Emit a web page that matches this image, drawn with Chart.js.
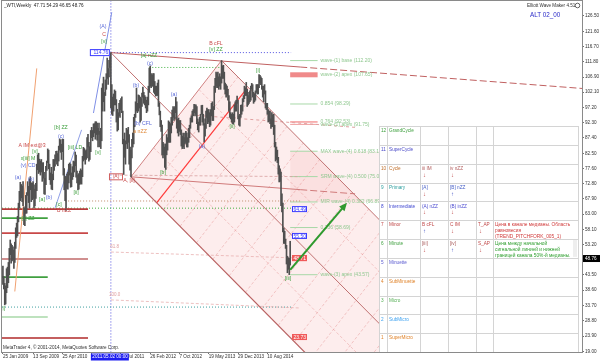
<!DOCTYPE html>
<html><head><meta charset="utf-8">
<title>_WTI,Weekly</title>
<script src="https://cdn.jsdelivr.net/npm/chart.js@4.4.1/dist/chart.umd.min.js"></script>
<style>html,body{margin:0;padding:0;background:#fff;overflow:hidden;width:600px;height:361px}canvas{display:block}</style>
</head><body>
<canvas id="c" width="600" height="361"></canvas>
<script>
// ---------- DATA ----------
// weekly bars, week 0 = 25 Jan 2009
const weekLow = [
40.5,39.0,33.9,34.2,37.8,39.4,41.0,43.5,50.0,47.3,
48.0,48.5,45.6,47.5,52.0,55.5,56.0,60.5,65.0,67.3,
68.2,67.0,65.7,59.6,59.3,63.2,63.3,69.0,66.7,65.0,
70.8,67.0,67.6,68.0,65.0,65.6,68.0,70.5,77.2,76.0,
76.5,75.5,76.5,73.5,74.5,69.5,69.3,72.4,77.0,79.5,
77.5,74.0,72.5,71.0,70.8,74.0,77.0,78.4,80.0,79.0,
78.5,80.0,83.5,82.8,80.5,83.0,75.5,70.8,67.3,64.2,
71.2,71.0,73.0,75.5,71.6,71.8,74.1,75.0,76.5,78.5,
74.8,73.0,70.8,71.0,72.5,72.8,72.6,75.0,80.0,80.5,
79.0,80.5,81.0,84.5,80.0,80.5,83.0,87.5,86.5,87.8,
89.0,87.0,88.5,86.7,84.5,88.5,84.5,84.0,86.5,96.0,
99.0,96.0,101.0,103.0,106.5,104.6,107.0,110.0,97.0,95.0,
94.6,96.0,98.0,98.0,92.5,89.6,90.0,94.5,94.0,96.5,
95.5,85.5,75.7,81.2,79.0,85.5,84.0,86.0,79.0,77.1,
74.9,81.0,84.5,85.5,91.0,94.0,96.0,95.5,96.0,97.0,
92.5,93.0,97.5,100.5,98.5,98.0,97.0,95.5,96.0,98.0,
102.0,104.0,103.5,104.0,104.0,102.0,101.5,100.8,101.0,101.0,
97.5,94.8,91.0,89.5,82.0,81.0,82.0,78.0,77.3,82.0,
83.5,86.0,86.0,86.0,89.0,91.5,94.0,93.0,93.5,95.5,
90.5,89.0,88.0,89.5,88.5,84.8,84.0,84.5,84.0,85.5,
86.0,84.5,84.5,86.0,87.5,90.5,92.5,92.5,94.5,95.5,
94.5,95.0,92.0,90.0,89.3,91.5,91.5,95.0,92.5,91.5,
86.1,88.0,90.5,94.0,92.0,92.5,91.0,91.5,94.5,93.0,
93.0,96.5,102.0,104.0,103.5,103.5,103.0,104.0,103.0,105.0,
106.5,106.5,103.0,101.5,100.5,101.0,99.5,96.0,94.0,93.5,
92.5,92.0,91.8,92.5,96.0,96.0,98.5,93.5,91.5,91.2,
94.0,95.0,96.0,99.0,100.0,101.0,101.0,97.5,98.0,98.5,
99.0,99.5,103.0,100.5,98.5,99.0,99.5,102.0,101.5,101.5,
103.5,105.0,104.5,103.0,100.5,99.0,101.5,97.0,96.5,95.0,
92.5,92.8,92.0,90.5,91.0,91.0,88.5,84.5,80.0,80.5,
79.5,75.8,73.3,73.5,65.7,63.7,57.3,53.6,53.6,52.0,
47.0,44.2,45.3,43.6,46.65];
const weekHigh = [
46.3,43.0,40.8,40.0,45.5,46.0,47.5,52.0,54.7,53.5,
53.0,52.5,51.5,54.0,58.6,60.1,62.3,66.5,70.3,73.2,
72.5,72.0,73.4,65.3,64.8,69.0,69.9,73.4,71.9,74.3,
75.0,73.0,72.9,73.4,72.4,71.0,72.9,79.0,82.0,82.5,
80.6,80.0,80.5,79.4,79.5,76.4,74.5,78.3,80.0,83.9,
83.5,79.0,76.2,78.0,75.8,80.5,80.5,82.0,83.1,83.2,
82.4,84.8,87.1,86.8,85.4,87.0,87.0,77.6,75.0,75.0,
75.8,76.5,79.0,79.4,79.0,76.2,78.2,80.0,79.8,82.9,
81.9,76.8,75.5,76.0,76.8,77.5,77.0,81.5,84.4,84.0,
83.3,83.6,87.5,88.6,86.0,84.6,89.8,90.8,89.8,91.9,
92.0,92.6,92.6,92.2,90.5,92.2,89.5,90.5,103.4,104.8,
106.9,102.0,106.0,108.0,113.0,109.6,112.3,113.8,114.8,104.5,
100.5,101.5,102.8,102.4,99.7,96.6,95.5,98.5,99.5,100.0,
100.6,96.0,87.0,89.0,86.5,90.5,90.0,90.8,88.5,84.5,
83.5,87.0,89.0,94.0,95.0,99.0,103.4,98.5,101.2,101.0,
100.5,100.0,101.8,103.7,102.0,101.0,100.5,99.5,100.5,104.0,
109.8,110.5,108.0,107.5,108.0,108.0,105.5,104.0,104.0,105.0,
106.0,98.7,96.0,93.0,91.5,86.0,85.5,84.5,85.5,88.5,
87.5,92.9,92.5,92.0,94.0,96.3,97.5,97.0,97.5,100.4,
99.0,93.5,93.8,93.0,93.0,90.0,88.0,89.0,87.5,89.0,
89.5,89.0,87.5,90.5,91.5,93.8,94.5,96.0,96.5,98.2,
98.0,98.0,97.5,93.5,92.5,94.0,95.0,97.8,97.9,95.0,
92.0,93.5,96.0,97.0,96.5,96.5,95.5,96.5,98.5,99.0,
97.5,104.0,106.5,108.5,108.0,108.5,107.0,108.0,107.0,112.2,
110.5,110.7,108.5,105.0,104.5,104.0,103.0,101.0,99.0,95.5,
95.0,95.5,95.0,98.0,99.0,99.5,100.8,99.5,94.5,95.0,
97.9,98.0,100.0,101.0,104.0,103.5,105.2,103.0,101.0,102.0,
102.5,104.0,104.9,104.5,102.0,101.5,102.5,104.5,104.5,104.5,
107.7,107.5,107.0,106.5,104.0,104.0,104.5,102.5,98.5,98.5,
96.5,96.0,96.0,93.5,95.5,94.8,95.0,91.5,86.0,84.5,
83.5,81.2,78.5,77.5,76.5,69.5,66.5,58.5,57.5,55.0,
53.0,49.5,49.0,48.8,54.29];
const quoteText = '_WTI,Weekly  47.71 54.29 46.65 48.76';
const lastClose = 48.76;

const xTickWeeks  = [0,33,65,97,129,161,193,225,257,289];
const xTickLabels = ['25 Jan 2009','13 Sep 2009','25 Apr 2010','5 Dec 2010','17 Jul 2011','26 Feb 2012','7 Oct 2012','19 May 2013','29 Dec 2013','10 Aug 2014'];
const cursorWeek = 118, cursorLabel = '2011.05.02 00:00', peakPrice = 114.76;
const yTickValues = [19.00,23.90,28.80,33.70,38.60,43.50,48.40,53.20,58.10,63.00,67.90,72.80,77.60,82.50,87.40,92.30,97.20,102.10,106.90,111.80,116.70,121.60,126.50];

// Andrews pitchfork pivots [week, price]
const forkP0 = [118,114.76];
const forkP1 = [140,74.95];
const forkP2 = [239,112.24];
const forkInnerFractions = [0.25,0.75];

// trend / channel lines [week0, price0, week1, price1]
const trendLines = [
  [118,114.76,325,110.14],[325,110.14,633,103.27],
  [140,74.95,325,70.83],[325,70.83,385,69.5],
  [205,94.8,385,90.8],
  [13,38.2,37,109.7],
  [99,95.4,119,127.7],
  [57,65.0,86,90.0],
  [168,66.6,267,103.4],
  [118,50.85,325,48.9],[118,35.5,325,32.9],
  [122,75.5,325,75.0]
];
// horizontal levels on the left [price, endWeek]
const leftLevelPrices = [64.6,61.7,56.9,48.6,42.8,30.0,23.3];
const leftLevelEnd    = [93,49,93,93,49,49,93];
// dotted horizontals [price, week0, week1]
const dottedLevels = [[64.9,-1,315],[33.2,-1,315],[67.2,68,325],[110.0,160,239],[114.76,118,315]];

// target levels (right)
const levelNames  = ['wave-(1) base','wave-(2) apex','0.854','0.764','wave-(1) apex','MAX wave-(4) 0.618','SRM wave-(4) 0.500','MIR wave-(4) 0.382','0.236','wave-(3) apex'];
const levelPrices = [112.20,107.65,98.29,92.53,91.75,83.15,75.02,66.89,58.69,43.57];
const levelWeeks  = [314,344];
const zonePrices  = [83.15,66.89];

// price marker boxes
const boxTexts  = ['64.49','55.50','48.71','23.73'];
const boxPrices = [64.6,56.0,48.9,23.6];
const arrowFrom = [314,45.1], arrowTo = [374,65.9];

// wave labels
const waveText  = ['(A)','C','[v]','B cFL','[v] ZZ','[a] nZZ','(c)','[i]','(b)','(a)','(b) CFL','a nZZ','[b]','A, [ii]','(a)','[ii]','[iii]','A IM ext@3','[b] ZZ','(c)','[v]','x[iii] M','(v) CD','[iii] LD','[v]','(a)','(b)','[a]','(b)','[ii]','[c]','B nZZ','[ii] ZZ','[i]','61.8','100.0'];
const waveWeek  = [109.4,110.5,110.5,232.9,232.9,159.7,160.8,278.8,145.5,187.0,153.1,149.9,175.0,137.8,217.6,250.4,311.6,31.8,63.5,63.5,35.1,27.4,27.4,78.8,103.9,16.5,30.7,42.7,50.4,79.9,61.3,66.8,27.4,0.1,122,122];
const wavePrice = [123.0,120.7,118.2,117.8,115.6,113.7,111.4,108.9,104.1,101.2,91.9,89.6,76.2,73.6,84.5,90.9,42.2,85.1,90.6,88.0,83.2,80.7,78.4,84.2,82.6,74.6,74.2,67.5,68.2,69.8,65.9,64.0,61.7,32.6,52.6,37.3];
const waveKind  = ['b','r','g','r','g','g','b','g','b','b','b','o','g','r','b','g','g','r','g','b','g','g','b','g','g','b','b','g','b','g','g','r','g','g','p','p'];

// table
const degreeNo   = [12,11,10,9,8,7,6,5,4,3,2,1];
const degreeName = ['GrandCycle','SuperCycle','Cycle','Primary','Intermediate','Minor','Minute','Minuette','SubMinuette','Micro','SubMicro','SuperMicro'];
const waveCur    = ['','','iii IM','[A]','(A) nZZ','B cFL','[iii]','','','','',''];
const waveCurDir = ['','','↓','↓','↓','↑','↓','','','','',''];
const waveNext   = ['','','iv nZZ','[B] nZZ','(B) inZZ','C IM','[iv]','','','','',''];
const waveNextDir= ['','','↓','↑','↓','↓','↑','','','','',''];
const signalName = ['','','','','','T_AP','S_AP','','','','',''];
const signalDir  = ['','','','','','↓','↓','','','','',''];
const notes = [[],[],[],[],[],
  ['Цена в канале медианы. Область','равновесия','(TREND_PITCHFORK_005_1)'],
  ['Цена между начальной','сигнальной линией и нижней','границей канала 50%-й медианы.'],
  [],[],[],[],[]];

// ---------- STYLES ----------
const FONT = '"Liberation Sans", Arial, sans-serif';
const fnt = (s) => s + 'px ' + FONT;
const degreeColor = ['#3d9f3d','#4a4ac8','#c0702c','#2fa0a0','#3f46d0','#c04848','#3d9f3d','#5a5ad0','#e0842c','#58b058','#3aa0f0','#e0842c'];
const cellColor   = ['','','#b05a5a','#4a62c8','#4a4ad0','#c04848','#a85a5a','','','','',''];
const noteColor   = ['','','','','','#d03a3a','#2f9f2f','','','','',''];
const waveColor = {g:'#3d9f3d', b:'#5a6ad8', r:'#c84848', o:'#e08a3a', p:'#e0a0a0'};
const leftLevelColor = ['#b83a3a','#3fa03f','#c84848','#c06a6a','#40a040','#a8d8a8','#b02a2a'];
const dottedColor = ['#40b040','#40a0a0','#c08a6a','#40b040','#5050e0'];
const trendStyle = [
  ['#c06060',1,[]],['#c06060',1,[7,3]],
  ['#d07a7a',1,[]],['#d07a7a',1,[7,3]],
  ['#e0a0a0',1,[3,3]],
  ['#f0a070',1,[]],
  ['#7f8fe6',1,[]],
  ['#8f9fe6',1,[]],
  ['#ff3a3a',1.2,[]],
  ['#e8b0b0',0.8,[3,2]],['#e8b0b0',0.8,[3,2]],
  ['#d8a0a0',0.8,[3,2]]
];
const levelColor = ['#a8d8a8','#f08a8a','#a8d8a8','#f06a6a','#f0a0a0','#a8d8a8','#a8d8a8','#a8d8a8','#a8d8a8','#a8d8a8'];
const levelWidth = [1,5,1,1,1,1,1,1,1,1];
const boxStyle = [['#ffffff','#3a3aff','#3a3aff'],['#ffffff','#3a3aff','#3a3aff'],['#f05a5a','#f05a5a','#ffffff'],['#f05a5a','#f05a5a','#ffffff']];

// ---------- helpers ----------
const dir = [(forkP1[0]+forkP2[0])/2 - forkP0[0], (forkP1[1]+forkP2[1])/2 - forkP0[1]];
const add = (p, t) => [p[0] + dir[0]*t, p[1] + dir[1]*t];
const lerp = (a, b, f) => [a[0] + (b[0]-a[0])*f, a[1] + (b[1]-a[1])*f];
function seg(p, q, color, width, dash, order) {
  return {type:'line', data:[{x:p[0],y:p[1]},{x:q[0],y:q[1]}], borderColor:color, borderWidth:width,
    borderDash:dash||[], pointRadius:0, pointHoverRadius:0, fill:false, tension:0, order:order||2};
}

const datasets = [{
  type:'bar', label:'WTI', order:0,
  data: weekLow.map((l,i)=>({x:i, y:[l, weekHigh[i]]})),
  backgroundColor:'#505050', borderWidth:0, barThickness:1, grouped:false
}];
// pitchfork lines
datasets.push(seg(forkP0, add(forkP0, 7), '#c07070', 1, [], 3));
datasets.push(seg(forkP1, add(forkP1, 6), '#b86060', 1.2, [], 3));
datasets.push(seg(forkP2, add(forkP2, 6), '#c07070', 1, [], 3));
datasets.push(seg(forkP1, forkP2, '#d08080', 1, [], 3));
trendLines.forEach((t,i)=>datasets.push(seg([t[0],t[1]],[t[2],t[3]], trendStyle[i][0], trendStyle[i][1], trendStyle[i][2], 4)));
leftLevelPrices.forEach((p,i)=>datasets.push(seg([-1,p],[leftLevelEnd[i],p], leftLevelColor[i], 1.6, [], 4)));
dottedLevels.forEach((d,i)=>datasets.push(seg([d[1],d[0]],[d[2],d[0]], dottedColor[i], 1, [1,2], 4)));
datasets.push(seg([cursorWeek,10],[cursorWeek,140], '#5050e0', 1, [1,2], 4));
levelPrices.forEach((p,i)=>datasets.push(seg([levelWeeks[0],p],[levelWeeks[1],p], levelColor[i], levelWidth[i], [], 4)));

const overlay = {
  id:'overlay',
  beforeDatasetsDraw(chart){
    const {ctx, chartArea:a, scales:{x,y}} = chart;
    const X = v => x.getPixelForValue(v), Y = v => y.getPixelForValue(v);
    ctx.save();
    ctx.beginPath(); ctx.rect(a.left, a.top, a.right-a.left, a.bottom-a.top); ctx.clip();
    // fib zone
    ctx.fillStyle = 'rgba(240,140,140,0.12)';
    ctx.fillRect(X(levelWeeks[0]), Y(zonePrices[0]), X(520)-X(levelWeeks[0]), Y(zonePrices[1])-Y(zonePrices[0]));
    // fork fill
    const T = 6;
    const poly = [forkP1, forkP2, add(forkP2,T), add(forkP1,T)];
    ctx.beginPath();
    poly.forEach((p,i)=>{ i ? ctx.lineTo(X(p[0]),Y(p[1])) : ctx.moveTo(X(p[0]),Y(p[1])); });
    ctx.closePath();
    ctx.fillStyle = 'rgba(235,110,110,0.12)';
    ctx.fill();
    ctx.clip();
    ctx.strokeStyle = 'rgba(220,110,110,0.42)'; ctx.lineWidth = 0.8; ctx.setLineDash([3,2]);
    const ln = (p,q)=>{ ctx.beginPath(); ctx.moveTo(X(p[0]),Y(p[1])); ctx.lineTo(X(q[0]),Y(q[1])); ctx.stroke(); };
    forkInnerFractions.forEach(f=>{ const b = lerp(forkP1, forkP2, f); ln(b, add(b,T)); });
    for (let s = 0.25; s <= T; s += 0.25) ln(add(forkP1,s), add(forkP2,s));
    ctx.restore();
  },
  afterDatasetsDraw(chart){
    const {ctx, chartArea:a, scales:{x,y}} = chart;
    const X = v => x.getPixelForValue(v), Y = v => y.getPixelForValue(v);
    ctx.save();
    ctx.beginPath(); ctx.rect(a.left, a.top, a.right-a.left, a.bottom-a.top); ctx.clip();
    ctx.textBaseline = 'middle';
    // level labels
    ctx.font = fnt(5); ctx.textAlign = 'left'; ctx.fillStyle = '#90c890';
    levelNames.forEach((n,i)=>ctx.fillText(n + ' (' + levelPrices[i].toFixed(2) + ')', X(levelWeeks[1]) + 3, Y(levelPrices[i])));
    // wave labels
    ctx.textAlign = 'center';
    waveText.forEach((t,i)=>{ ctx.fillStyle = waveColor[waveKind[i]]; ctx.font = fnt(waveKind[i]==='p'?4.5:5.2); ctx.fillText(t, X(waveWeek[i]), Y(wavePrice[i])); });
    // peak box
    ctx.font = fnt(5); ctx.textAlign = 'right';
    const px0 = X(forkP0[0]) - 1, py0 = Y(peakPrice);
    ctx.fillStyle = '#ffffff'; ctx.fillRect(px0-20, py0-3.5, 20, 7);
    ctx.strokeStyle = '#3a3aff'; ctx.lineWidth = 1; ctx.strokeRect(px0-19.5, py0-3, 19, 6);
    ctx.fillStyle = '#3a3aff'; ctx.fillText(peakPrice.toFixed(2), px0-1.5, py0+0.3);
    // (A) box
    ctx.textAlign = 'center';
    const ax = X(123.6), ay = Y(forkP1[1]);
    ctx.strokeStyle = '#d06060'; ctx.strokeRect(ax-6.5, ay-3, 13, 6);
    ctx.fillStyle = '#d06060'; ctx.fillText('(A)', ax, ay+0.3);
    // price boxes
    ctx.textAlign = 'left';
    boxTexts.forEach((t,i)=>{
      const bx = X(316), by = Y(boxPrices[i]);
      ctx.fillStyle = boxStyle[i][0]; ctx.fillRect(bx, by-3, 15, 6);
      ctx.strokeStyle = boxStyle[i][1]; ctx.strokeRect(bx+0.5, by-2.5, 14, 5);
      ctx.fillStyle = boxStyle[i][2]; ctx.fillText(t, bx+1.5, by+0.3);
    });
    // arrow
    const ax0 = X(arrowFrom[0]), ay0 = Y(arrowFrom[1]), ax1 = X(arrowTo[0]), ay1 = Y(arrowTo[1]);
    ctx.strokeStyle = '#2e9a2e'; ctx.fillStyle = '#2e9a2e'; ctx.lineWidth = 2;
    ctx.beginPath(); ctx.moveTo(ax0, ay0); ctx.lineTo(ax1, ay1); ctx.stroke();
    const ang = Math.atan2(ay1-ay0, ax1-ax0);
    ctx.beginPath(); ctx.moveTo(ax1+3*Math.cos(ang), ay1+3*Math.sin(ang));
    ctx.lineTo(ax1-5*Math.cos(ang)+3.5*Math.sin(ang), ay1-5*Math.sin(ang)-3.5*Math.cos(ang));
    ctx.lineTo(ax1-5*Math.cos(ang)-3.5*Math.sin(ang), ay1-5*Math.sin(ang)+3.5*Math.cos(ang));
    ctx.closePath(); ctx.fill();
    // copyright
    ctx.font = fnt(4.6); ctx.fillStyle = '#303030'; ctx.textAlign = 'left';
    ctx.fillText('MetaTrader 4, © 2001-2014, MetaQuotes Software Corp.', 3, a.bottom - 4);
    ctx.restore();

    // table
    const L = 379, R = 578, TOP = 126, BOT = a.bottom;
    const cols = [379,387,420,448,476,493,578];
    const rh = (BOT - TOP) / degreeNo.length;
    ctx.save();
    ctx.fillStyle = '#ffffff'; ctx.fillRect(L, TOP, R-L, BOT-TOP);
    ctx.strokeStyle = '#d4d4d4'; ctx.lineWidth = 1;
    for (let r = 0; r <= degreeNo.length; r++) { const yy = Math.round(TOP + r*rh) + 0.5; ctx.beginPath(); ctx.moveTo(L, yy); ctx.lineTo(R, yy); ctx.stroke(); }
    cols.forEach(cx=>{ ctx.beginPath(); ctx.moveTo(cx+0.5, TOP); ctx.lineTo(cx+0.5, BOT); ctx.stroke(); });
    ctx.textBaseline = 'middle'; ctx.textAlign = 'left';
    degreeNo.forEach((n,r)=>{
      const ty = TOP + r*rh + 5;
      ctx.font = fnt(4.7);
      ctx.fillStyle = degreeColor[r];
      ctx.fillText(String(n), cols[0]+2, ty);
      ctx.fillText(degreeName[r], cols[1]+2, ty);
      const cells = [[waveCur[r], waveCurDir[r], cols[2]], [waveNext[r], waveNextDir[r], cols[3]], [signalName[r], signalDir[r], cols[4]]];
      cells.forEach(c=>{
        if (!c[0]) return;
        ctx.fillStyle = c === cells[2] ? '#c04848' : cellColor[r];
        ctx.font = fnt(4.7); ctx.fillText(c[0], c[2]+2, ty);
        ctx.fillStyle = c[1] === '↑' ? '#4858c8' : '#c04848';
        ctx.font = 'bold ' + fnt(6); ctx.fillText(c[1], c[2]+3, ty + 6.5);
      });
      ctx.font = fnt(4.8); ctx.fillStyle = noteColor[r];
      notes[r].forEach((line,k)=>ctx.fillText(line, cols[5]+2, ty + k*6));
    });
    // small scrollbar in note cell
    ctx.fillStyle = '#eeeeee'; ctx.fillRect(573, TOP + 6*rh + 1, 4, rh - 2);
    ctx.restore();
  },
  afterDraw(chart){
    const {ctx, chartArea:a, scales:{x,y}} = chart;
    ctx.save();
    // frame
    ctx.strokeStyle = '#8a8a8a'; ctx.lineWidth = 1;
    ctx.strokeRect(a.left - 0.5, a.top - 0.5, a.right - a.left + 1, a.bottom - a.top + 1);
    ctx.textBaseline = 'middle';
    ctx.font = fnt(4.6); ctx.fillStyle = '#202020'; ctx.textAlign = 'left';
    ctx.fillText(quoteText, 4, 6);
    ctx.fillStyle = '#303030';
    ctx.fillText('Elliott Wave Maker 4.51', 527, 5.5);
    ctx.strokeStyle = '#606060'; ctx.beginPath(); ctx.arc(577.5, 5.5, 2.3, 0, Math.PI*2); ctx.stroke();
    ctx.font = fnt(6.3); ctx.fillStyle = '#2a2ac8';
    ctx.fillText('ALT 02_00', 530, 15);
    // cursor date label
    const cx = x.getPixelForValue(cursorWeek);
    ctx.fillStyle = '#1e1ef0'; ctx.fillRect(cx - 20, a.bottom + 1.5, 38, 7);
    ctx.fillStyle = '#ffffff'; ctx.font = fnt(4.6);
    ctx.fillText(cursorLabel, cx - 18.5, a.bottom + 5.2);
    // last price box
    const ly = y.getPixelForValue(lastClose);
    ctx.fillStyle = '#000000'; ctx.fillRect(a.right + 1, ly - 3.5, 18, 7);
    ctx.fillStyle = '#ffffff'; ctx.fillText(lastClose.toFixed(2), a.right + 3, ly + 0.3);
    ctx.restore();
  }
};

new Chart(document.getElementById('c'), {
  type:'bar',
  data:{datasets},
  options:{
    responsive:false, animation:false, devicePixelRatio:1, events:[],
    layout:{padding:{left:2, top:1, right:0, bottom:0}},
    plugins:{legend:{display:false}, tooltip:{enabled:false}},
    scales:{
      x:{type:'linear', position:'bottom', min:-1, max:633, offset:false,
        afterFit(s){ s.height = 9; s.paddingLeft = 0; s.paddingRight = 0; },
        afterBuildTicks(s){ s.ticks = xTickWeeks.map(v=>({value:v})); },
        ticks:{autoSkip:false, maxRotation:0, minRotation:0, align:'start', padding:0, color:'#303030',
          font:{family:FONT, size:4.6},
          callback:(v)=>{ const i = xTickWeeks.indexOf(v); return i >= 0 ? xTickLabels[i] : ''; }},
        grid:{display:true, drawOnChartArea:false, offset:false, tickLength:2, color:'#707070'},
        border:{display:true, color:'#8a8a8a'}
      },
      y:{type:'linear', position:'right', min:18.8, max:131.3,
        afterFit(s){ s.width = 18; s.paddingTop = 0; s.paddingBottom = 0; },
        afterBuildTicks(s){ s.ticks = yTickValues.map(v=>({value:v})); },
        ticks:{padding:1, color:'#303030', font:{family:FONT, size:4.6}, callback:(v)=>Number(v).toFixed(2)},
        grid:{display:true, drawOnChartArea:false, tickLength:2, color:'#707070'},
        border:{display:true, color:'#8a8a8a'}
      }
    }
  },
  plugins:[overlay]
});
</script>
</body></html>
